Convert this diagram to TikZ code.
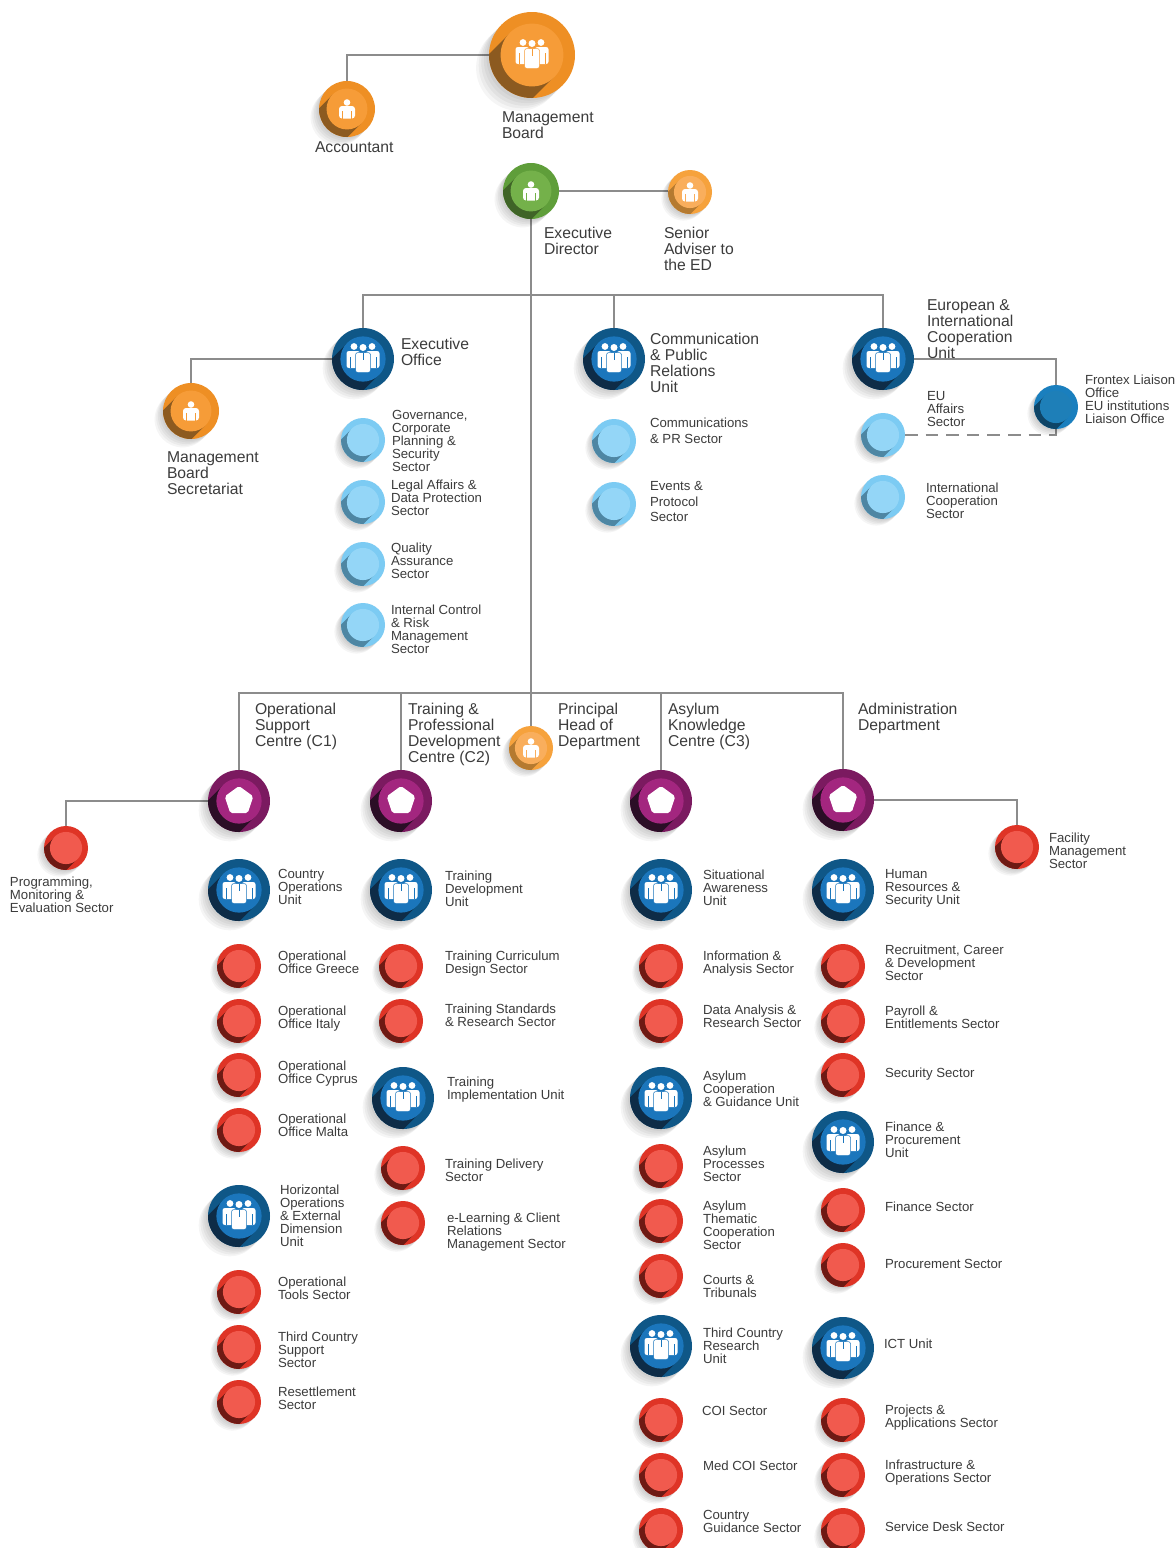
\documentclass[tikz,border=0pt]{standalone}
\usepackage{fontspec}
\setmainfont{Liberation Sans}
\usetikzlibrary{backgrounds}
\definecolor{orgO}{HTML}{EE8F24}\definecolor{orgI}{HTML}{F69C38}\definecolor{orgD}{HTML}{8C5A20}
\definecolor{sunO}{HTML}{F6A23C}\definecolor{sunI}{HTML}{F9AE5C}\definecolor{sunD}{HTML}{B57A30}
\definecolor{grnO}{HTML}{5F9E3A}\definecolor{grnI}{HTML}{74B14A}\definecolor{grnD}{HTML}{3F6427}
\definecolor{navO}{HTML}{0F5787}\definecolor{navI}{HTML}{1B76BC}\definecolor{navD}{HTML}{0E2C47}
\definecolor{skyO}{HTML}{7CCBF3}\definecolor{skyI}{HTML}{94D6F7}\definecolor{skyD}{HTML}{4E86A3}
\definecolor{fxO}{HTML}{1A7FBE}\definecolor{fxI}{HTML}{1E7FB8}\definecolor{fxD}{HTML}{0E4466}
\definecolor{purO}{HTML}{7B1A60}\definecolor{purI}{HTML}{A3267F}\definecolor{purD}{HTML}{2B0E26}
\definecolor{redO}{HTML}{DF3426}\definecolor{redI}{HTML}{F15A4E}\definecolor{redD}{HTML}{6E1A14}
\definecolor{ink}{HTML}{3C3C3C}\definecolor{wire}{HTML}{8C8C8C}
\newcommand\fbig{\fontsize{7.85pt}{8pt}\selectfont}
\newcommand\fsmall{\fontsize{6.6pt}{6.5pt}\selectfont}
\newcommand\fmid{\fontsize{6.6pt}{7.75pt}\selectfont}
\tikzset{
  ballnode/.style={circle,inner sep=0pt,outer sep=0pt},
  txt/.style={anchor=north west,inner sep=0pt,outer sep=0pt,align=left,text=ink},
  bigtxt/.style={txt,font=\fbig},
  smalltxt/.style={txt,font=\fsmall},
  midtxt/.style={txt,font=\fmid},
  wireline/.style={draw=wire,line width=.55pt},
  dashline/.style={draw=wire,line width=.55pt,dash pattern=on 6.3pt off 4pt},
}
% icons, drawn in reference pixels round the ball's centre
\newcommand\icperson[1]{%
  \fill[white] (0,-6.5) circle[radius=3.3];
  \fill[white,rounded corners=1.5pt] (-8,9.5)--(-8,-3)--(8,-3)--(8,9.5)--cycle;
  \draw[#1,line width=.35pt] (-4.6,2)--(-4.6,9.8) (4.6,2)--(4.6,9.8);
}
\newcommand\icgroup[1]{%
  \fill[white] (-9,-12.5) circle[radius=3.4] (9,-12.5) circle[radius=3.4] (0,-11.5) circle[radius=3.5];
  \fill[white,rounded corners=1.2pt] (-16.5,9)--(-16.5,-8)--(-3,-8)--(-3,9)--cycle;
  \fill[white,rounded corners=1.2pt] (16.5,9)--(16.5,-8)--(3,-8)--(3,9)--cycle;
  \filldraw[fill=white,draw=#1,line width=.25pt,rounded corners=1.2pt] (-7.5,13.5)--(-7.5,-6.5)--(7.5,-6.5)--(7.5,13.5)--cycle;
  \draw[#1,line width=.35pt] (-13,-2)--(-13,9.3) (13,-2)--(13,9.3) (0,-6)--(0,1);
}
\newcommand\icpent[1]{%
  \fill[white,rounded corners=1pt] (0,-15)--(14.3,-4.6)--(8.8,12.1)--(-8.8,12.1)--(-14.3,-4.6)--cycle;
}
\newcommand\icnone[1]{}
% name, x, y, R, colour family, icon
\newcommand\ball[6]{%
  \foreach \k in {1,...,5}
    \fill[black,opacity=.04] ({#2-\k*0.06*#4},{#3+\k*0.06*#4}) circle[radius=#4];
  \node[ballnode,fill=#5O,minimum size=#4 pt,name=#1] at (#2,#3) {};
  \begin{scope}
    \clip (#2,#3) circle[radius=#4];
    \fill[#5D] ({#2+.51*#4},{#3+.51*#4})--({#2+.51*#4-2*#4},{#3+.51*#4+2*#4})
       --({#2-.51*#4-2*#4},{#3-.51*#4+2*#4})--({#2-.51*#4},{#3-.51*#4})--cycle;
  \end{scope}
  \fill[#5I] (#2,#3) circle[radius={.73*#4}];
  \begin{scope}[shift={(#2,#3)}]#6{#5I}\end{scope}
}
\newcommand\lb[4]{\node[bigtxt,name=#1] at (#2,{#3-8.8}) {\rule{0pt}{7pt}#4};}
\newcommand\ls[4]{\node[smalltxt,name=#1] at (#2,{#3-7.4}) {\rule{0pt}{6pt}#4};}
\newcommand\lm[4]{\node[midtxt,name=#1] at (#2,{#3-7.4}) {\rule{0pt}{6pt}#4};}
\begin{document}
\begin{tikzpicture}[x=.5pt,y=-.5pt]
\lineskiplimit=-100pt\relax
\useasboundingbox (0,0) rectangle (1176,1548);
\clip (0,0) rectangle (1176,1548);
% top
\ball{mb}{532}{55}{43}{org}{\icgroup}
\ball{acc}{347}{109}{28}{org}{\icperson}
\ball{ed}{531}{191}{28}{grn}{\icperson}
\ball{sa}{690}{192}{22}{sun}{\icperson}
% units row
\ball{eo}{363}{359}{31}{nav}{\icgroup}
\ball{cpr}{614}{359}{31}{nav}{\icgroup}
\ball{eic}{883}{359}{31}{nav}{\icgroup}
\ball{mbs}{191}{411}{28}{org}{\icperson}
\ball{gov}{363}{440}{22}{sky}{\icnone}
\ball{leg}{363}{502}{22}{sky}{\icnone}
\ball{qua}{363}{564}{22}{sky}{\icnone}
\ball{int}{363}{625}{22}{sky}{\icnone}
\ball{com}{614}{441}{22}{sky}{\icnone}
\ball{evt}{614}{504}{22}{sky}{\icnone}
\ball{eua}{883}{435}{22}{sky}{\icnone}
\ball{ics}{883}{497}{22}{sky}{\icnone}
\ball{flo}{1056}{407}{22}{fx}{\icnone}
% centres
\ball{c1}{239}{801}{31}{pur}{\icpent}
\ball{c2}{401}{801}{31}{pur}{\icpent}
\ball{c3}{661}{801}{31}{pur}{\icpent}
\ball{adm}{843}{800}{31}{pur}{\icpent}
\ball{phd}{531}{748}{22}{sun}{\icperson}
\ball{pme}{66}{848}{22}{red}{\icnone}
\ball{fac}{1017}{847}{22}{red}{\icnone}
% column 1
\ball{a1}{239}{890}{31}{nav}{\icgroup}
\ball{a2}{239}{966}{22}{red}{\icnone}
\ball{a3}{239}{1021}{22}{red}{\icnone}
\ball{a4}{239}{1075}{22}{red}{\icnone}
\ball{a5}{239}{1130}{22}{red}{\icnone}
\ball{a6}{239}{1216}{31}{nav}{\icgroup}
\ball{a7}{239}{1292}{22}{red}{\icnone}
\ball{a8}{239}{1347}{22}{red}{\icnone}
\ball{a9}{239}{1402}{22}{red}{\icnone}
% column 2
\ball{b1}{401}{890}{31}{nav}{\icgroup}
\ball{b2}{401}{966}{22}{red}{\icnone}
\ball{b3}{401}{1021}{22}{red}{\icnone}
\ball{b4}{403}{1098}{31}{nav}{\icgroup}
\ball{b5}{403}{1168}{22}{red}{\icnone}
\ball{b6}{403}{1223}{22}{red}{\icnone}
% column 3
\ball{d1}{661}{890}{31}{nav}{\icgroup}
\ball{d2}{661}{966}{22}{red}{\icnone}
\ball{d3}{661}{1021}{22}{red}{\icnone}
\ball{d4}{661}{1098}{31}{nav}{\icgroup}
\ball{d5}{661}{1166}{22}{red}{\icnone}
\ball{d6}{661}{1221}{22}{red}{\icnone}
\ball{d7}{661}{1276}{22}{red}{\icnone}
\ball{d8}{661}{1346}{31}{nav}{\icgroup}
\ball{d9}{661}{1420}{22}{red}{\icnone}
\ball{d10}{661}{1475}{22}{red}{\icnone}
\ball{d11}{661}{1530}{22}{red}{\icnone}
% column 4
\ball{e1}{843}{890}{31}{nav}{\icgroup}
\ball{e2}{843}{966}{22}{red}{\icnone}
\ball{e3}{843}{1021}{22}{red}{\icnone}
\ball{e4}{843}{1075}{22}{red}{\icnone}
\ball{e5}{843}{1142}{31}{nav}{\icgroup}
\ball{e6}{843}{1210}{22}{red}{\icnone}
\ball{e7}{843}{1265}{22}{red}{\icnone}
\ball{e8}{843}{1348}{31}{nav}{\icgroup}
\ball{e9}{843}{1420}{22}{red}{\icnone}
\ball{e10}{843}{1475}{22}{red}{\icnone}
\ball{e11}{843}{1530}{22}{red}{\icnone}
% connectors
\coordinate (busA) at (531,295);
\coordinate (busB) at (531,693);
\begin{scope}[on background layer]
\fill[white] (0,0) rectangle (1176,1548);
\draw[wireline] (mb) -| (acc);
\draw[wireline] (ed) -- (ed -| sa.west);
\draw[wireline] (ed) -- (phd);
\draw[wireline] (eo) |- (busA) -| (eic);
\draw[wireline] (cpr) -- (cpr |- busA);
\draw[wireline] (eo) -| (mbs);
\draw[wireline] (eic) -| (flo);
\draw[dashline] (eua) -| (flo);
\draw[wireline] (c1) |- (busB) -| (adm);
\draw[wireline] (c2) -- (c2 |- busB);
\draw[wireline] (c3) -- (c3 |- busB);
\draw[wireline] (c1) -| (pme);
\draw[wireline] (adm) -| (fac);
\end{scope}
% labels, large
\lb{tacc}{315}{147}{Accountant}
\lb{tmb}{502}{117}{Management\\Board}
\lb{ted}{544}{233}{Executive\\Director}
\lb{tsa}{664}{233}{Senior\\Adviser to\\the ED}
\lb{teo}{401}{344}{Executive\\Office}
\lb{tcpr}{650}{339}{Communication\\\& Public\\Relations\\Unit}
\lb{teic}{927}{305}{European \&\\International\\Cooperation\\Unit}
\lb{tmbs}{167}{457}{Management\\Board\\Secretariat}
\lb{tc1}{255}{709}{Operational\\Support\\Centre (C1)}
\lb{tc2}{408}{709}{Training \&\\Professional\\Development\\Centre (C2)}
\lb{tphd}{558}{709}{Principal\\Head of\\Department}
\lb{tc3}{668}{709}{Asylum\\Knowledge\\Centre (C3)}
\lb{tadm}{858}{709}{Administration\\Department}
% labels, upper sectors
\ls{tgov}{392}{415}{Governance,\\Corporate\\Planning \&\\Security\\Sector}
\ls{tleg}{391}{485}{Legal Affairs \&\\Data Protection\\Sector}
\ls{tqua}{391}{548}{Quality\\Assurance\\Sector}
\ls{tint}{391}{610}{Internal Control\\\& Risk\\Management\\Sector}
\lm{tcom}{650}{423}{Communications\\\& PR Sector}
\lm{tevt}{650}{486}{Events \&\\Protocol\\Sector}
\ls{teua}{927}{396}{EU\\Affairs\\Sector}
\ls{tics}{926}{488}{International\\Cooperation\\Sector}
\ls{tflo}{1085}{380}{Frontex Liaison\\Office\\EU institutions\\Liaison Office}
\ls{tpme}{10}{882}{Programming,\\Monitoring \&\\Evaluation Sector}
\ls{tfac}{1049}{838}{Facility\\Management\\Sector}
% column 1 labels
\ls{ta1}{278}{874}{Country\\Operations\\Unit}
\ls{ta2}{278}{956}{Operational\\Office Greece}
\ls{ta3}{278}{1011}{Operational\\Office Italy}
\ls{ta4}{278}{1066}{Operational\\Office Cyprus}
\ls{ta5}{278}{1119}{Operational\\Office Malta}
\ls{ta6}{280}{1190}{Horizontal\\Operations\\\& External\\Dimension\\Unit}
\ls{ta7}{278}{1282}{Operational\\Tools Sector}
\ls{ta8}{278}{1337}{Third Country\\Support\\Sector}
\ls{ta9}{278}{1392}{Resettlement\\Sector}
% column 2 labels
\ls{tb1}{445}{876}{Training\\Development\\Unit}
\ls{tb2}{445}{956}{Training Curriculum\\Design Sector}
\ls{tb3}{445}{1009}{Training Standards\\\& Research Sector}
\ls{tb4}{447}{1082}{Training\\Implementation Unit}
\ls{tb5}{445}{1164}{Training Delivery\\Sector}
\ls{tb6}{447}{1218}{e-Learning \& Client\\Relations\\Management Sector}
% column 3 labels
\ls{td1}{703}{875}{Situational\\Awareness\\Unit}
\ls{td2}{703}{956}{Information \&\\Analysis Sector}
\ls{td3}{703}{1010}{Data Analysis \&\\Research Sector}
\ls{td4}{703}{1076}{Asylum\\Cooperation\\\& Guidance Unit}
\ls{td5}{703}{1151}{Asylum\\Processes\\Sector}
\ls{td6}{703}{1206}{Asylum\\Thematic\\Cooperation\\Sector}
\ls{td7}{703}{1280}{Courts \&\\Tribunals}
\ls{td8}{703}{1333}{Third Country\\Research\\Unit}
\ls{td9}{702}{1411}{COI Sector}
\ls{td10}{703}{1466}{Med COI Sector}
\ls{td11}{703}{1515}{Country\\Guidance Sector}
% column 4 labels
\ls{te1}{885}{874}{Human\\Resources \&\\Security Unit}
\ls{te2}{885}{950}{Recruitment, Career\\\& Development\\Sector}
\ls{te3}{885}{1011}{Payroll \&\\Entitlements Sector}
\ls{te4}{885}{1073}{Security Sector}
\ls{te5}{885}{1127}{Finance \&\\Procurement\\Unit}
\ls{te6}{885}{1207}{Finance Sector}
\ls{te7}{885}{1264}{Procurement Sector}
\ls{te8}{884}{1344}{ICT Unit}
\ls{te9}{885}{1410}{Projects \&\\Applications Sector}
\ls{te10}{885}{1465}{Infrastructure \&\\Operations Sector}
\ls{te11}{885}{1527}{Service Desk Sector}
\end{tikzpicture}
\end{document}
